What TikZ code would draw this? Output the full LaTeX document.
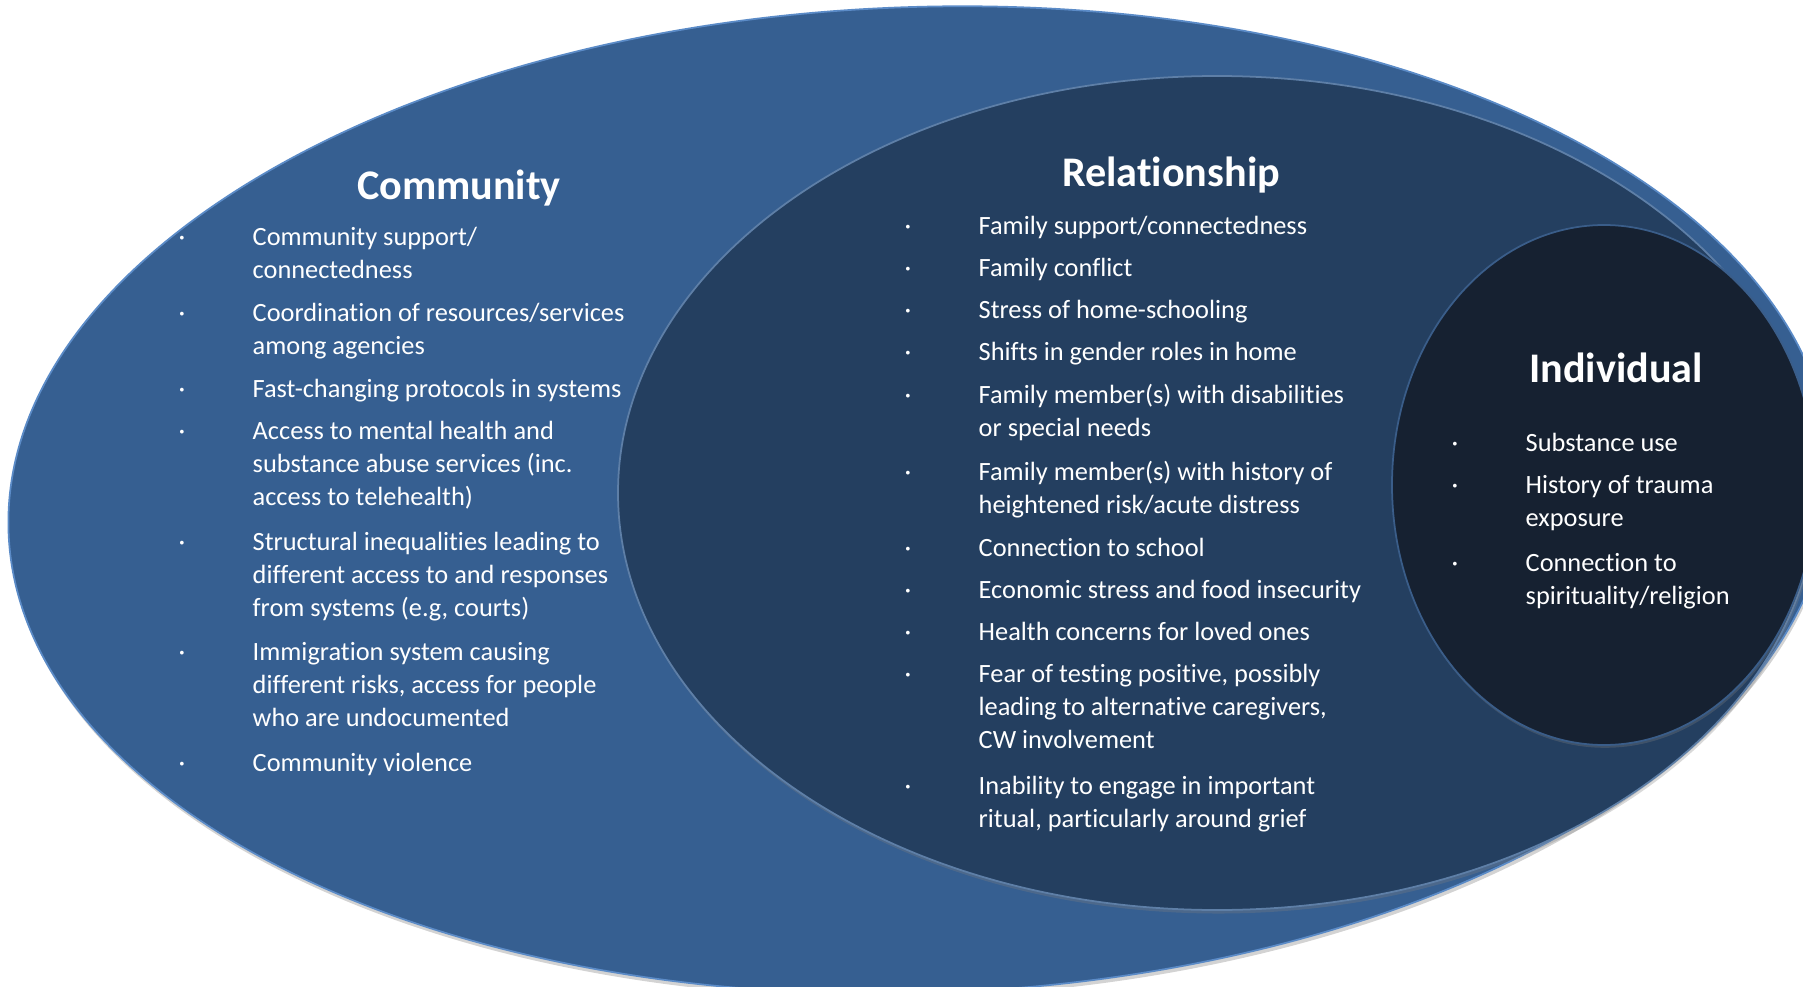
\documentclass[tikz,border=0pt]{standalone}
\usepackage{fontspec}
\setmainfont{Carlito}[Ligatures=CommonOff]
\usetikzlibrary{shadows}
\definecolor{commblue}{HTML}{365F91}
\definecolor{relblue}{HTML}{243F60}
\definecolor{indblue}{HTML}{162131}
\definecolor{rimblue}{HTML}{5B8BC7}
\tikzset{
  ring/.style={draw=rimblue, line width=0.5pt},
  lvltitle/.style={text=white, inner sep=0pt, font=\bfseries\fontsize{12}{14}\selectfont},
  itm/.style={text=white, anchor=base west, inner sep=0pt, font=\fontsize{7.5}{9.5}\selectfont},
  bul/.style={text=white, anchor=base, inner sep=0pt, font=\fontsize{7.5}{9.5}\selectfont},
}
\begin{document}
\begin{tikzpicture}
\useasboundingbox (0,0) rectangle (18.03,9.86);
\clip (0,0) rectangle (18.03,9.86);
\draw[ring, fill=commblue, rotate around={2:(9.20,4.86)}, drop shadow={shadow xshift=0.4pt, shadow yshift=-1.2pt, opacity=0.35}] (9.20,4.86) ellipse [x radius=9.12, y radius=4.93];
\draw[ring, draw=commblue!80!white, fill=relblue, drop shadow={shadow xshift=0.4pt, shadow yshift=-1pt, opacity=0.3}] (12.17,4.93) ellipse [x radius=5.99, y radius=4.17];
\draw[ring, draw=relblue!60!rimblue, fill=indblue, drop shadow={shadow xshift=0.3pt, shadow yshift=-0.8pt, opacity=0.3}] (16.04,5.01) ellipse [x radius=2.12, y radius=2.60];

\node[lvltitle] (comm) at (4.59,7.98) {Community};
\node[lvltitle] (rel) at (11.71,8.11) {Relationship};
\node[lvltitle] (ind) at (16.16,6.18) {Individual};

\foreach \y/\t [count=\i] in {7.41/{Community support/\\connectedness},
    6.65/{Coordination of resources/services\\among agencies},
    5.89/{Fast-changing protocols in systems},
    5.47/{Access to mental health and\\substance abuse services (inc.\\access to telehealth)},
    4.36/{Structural inequalities leading to\\different access to and responses\\from systems (e.g, courts)},
    3.26/{Immigration system causing\\different risks, access for people\\who are undocumented},
    2.15/{Community violence}}{
  \node[bul] (cb\i) at (1.82,\y) {·};
  \node[itm] (c\i) at (2.52,\y) {\parbox[t]{5cm}{\raggedright\t}};
}

\foreach \y/\t [count=\i] in {7.52/{Family support/connectedness},
    7.10/{Family conflict},
    6.68/{Stress of home-schooling},
    6.26/{Shifts in gender roles in home},
    5.83/{Family member(s) with disabilities\\or special needs},
    5.06/{Family member(s) with history of\\heightened risk/acute distress},
    4.30/{Connection to school},
    3.88/{Economic stress and food insecurity},
    3.46/{Health concerns for loved ones},
    3.04/{Fear of testing positive, possibly\\leading to alternative caregivers,\\CW involvement},
    1.92/{Inability to engage in important\\ritual, particularly around grief}}{
  \node[bul] (rb\i) at (9.08,\y) {·};
  \node[itm] (r\i) at (9.78,\y) {\parbox[t]{5cm}{\raggedright\t}};
}

\foreach \y/\t [count=\i] in {5.35/{Substance use},
    4.93/{History of trauma\\exposure},
    4.15/{Connection to\\spirituality/religion}}{
  \node[bul] (ib\i) at (14.55,\y) {·};
  \node[itm] (i\i) at (15.25,\y) {\parbox[t]{3cm}{\raggedright\t}};
}
\end{tikzpicture}
\end{document}
